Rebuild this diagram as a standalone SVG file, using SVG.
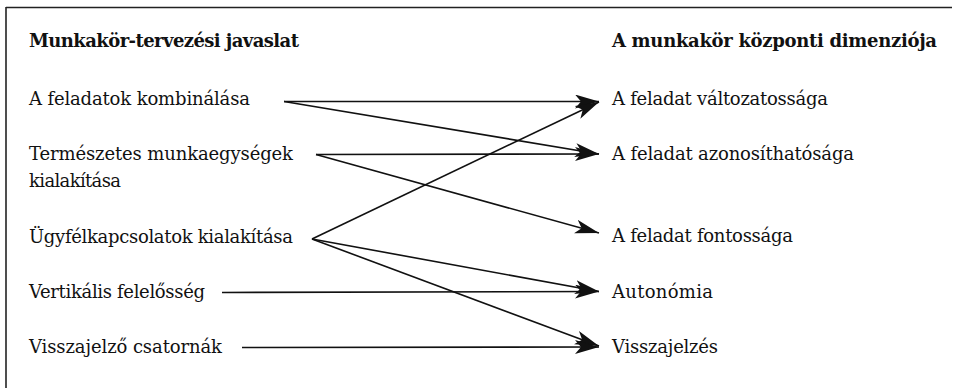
<svg xmlns="http://www.w3.org/2000/svg" width="955" height="388" viewBox="0 0 955 388">
<style>
  text { font-family: "DejaVu Serif", "Liberation Serif", serif; font-size: 18px; fill: #111; }
  .h { font-weight: bold; }
  .frame { stroke: #222; stroke-width: 1.6; fill: none; }
  .c { stroke: #111; stroke-width: 1.6; fill: none; marker-end: url(#ah); }
</style>
<defs>
  <marker id="ah" markerUnits="userSpaceOnUse" markerWidth="26" markerHeight="16" refX="24" refY="7" orient="auto">
    <path d="M0,0 L24,7 L0,14 L6,7 Z" fill="#111"/>
  </marker>
</defs>
<rect width="955" height="388" fill="#fff"/>
<g id="frame">
  <line class="frame" x1="6" y1="7.5" x2="952" y2="7.5"/>
  <line class="frame" x1="6" y1="7" x2="6" y2="388"/>
</g>
<g id="headers">
  <text class="h" x="29" y="47" textLength="270">Munkakör-tervezési javaslat</text>
  <text class="h" x="612" y="47" textLength="325">A munkakör központi dimenziója</text>
</g>
<g id="n_kombinalas"><text x="29" y="105" textLength="221">A feladatok kombinálása</text></g>
<g id="n_termeszetes"><text x="29" y="160" textLength="264">Természetes munkaegységek</text><text x="29" y="187" textLength="92">kialakítása</text></g>
<g id="n_ugyfel"><text x="29" y="243" textLength="264">Ügyfélkapcsolatok kialakítása</text></g>
<g id="n_vertikalis"><text x="29" y="298" textLength="176">Vertikális felelősség</text></g>
<g id="n_visszajelzo"><text x="29" y="353" textLength="193">Visszajelző csatornák</text></g>
<g id="n_valtozatossag"><text x="612" y="105" textLength="216">A feladat változatossága</text></g>
<g id="n_azonosithatosag"><text x="612" y="160" textLength="242">A feladat azonosíthatósága</text></g>
<g id="n_fontossag"><text x="612" y="242" textLength="181">A feladat fontossága</text></g>
<g id="n_autonomia"><text x="612" y="298" textLength="101">Autonómia</text></g>
<g id="n_visszajelzes"><text x="612" y="353" textLength="106">Visszajelzés</text></g>
<g id="connectors">
  <line class="c" x1="284" y1="101.5" x2="599" y2="101.5"/>
  <line class="c" x1="284" y1="101.5" x2="599" y2="154"/>
  <line class="c" x1="316" y1="154.5" x2="599" y2="154"/>
  <line class="c" x1="316" y1="154.5" x2="599" y2="233"/>
  <line class="c" x1="312" y1="239" x2="599" y2="102"/>
  <line class="c" x1="312" y1="239" x2="599" y2="291.5"/>
  <line class="c" x1="312" y1="239" x2="599" y2="346"/>
  <line class="c" x1="222" y1="292.5" x2="599" y2="291.5"/>
  <line class="c" x1="242" y1="347.5" x2="599" y2="347"/>
</g>
</svg>
